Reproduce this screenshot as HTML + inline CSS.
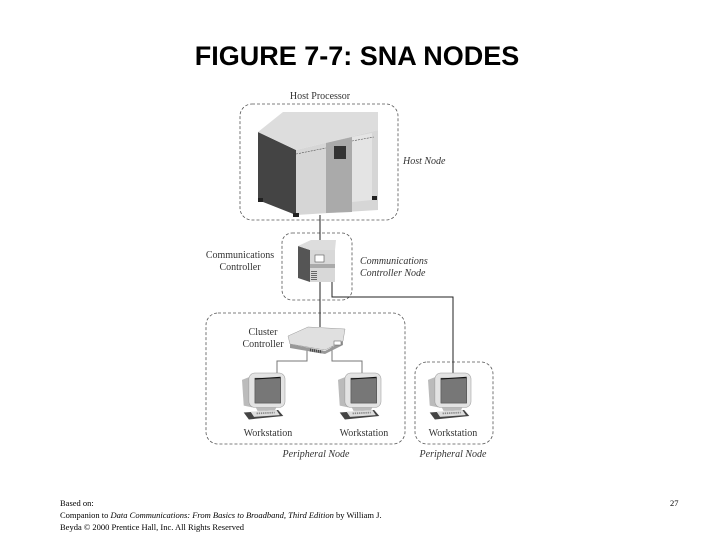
<!DOCTYPE html>
<html><head><meta charset="utf-8"><style>
html,body{margin:0;padding:0;background:#fff}
svg{display:block}
.s{font-family:"Liberation Serif",serif;font-size:10px;fill:#333}
.i{font-style:italic}
</style></head><body>
<svg width="720" height="540" viewBox="0 0 720 540" xmlns="http://www.w3.org/2000/svg">
<defs>
<g id="ws">
 <path d="M0,8 L10,4 L12,40 L2,38 Z" fill="#bbb"/>
 <rect x="8" y="0" width="42" height="40" rx="7" fill="#e3e3e3" stroke="#999" stroke-width="0.6"/>
 <rect x="15" y="6" width="30" height="29" fill="#777" stroke="#444" stroke-width="0.6"/>
 <line x1="15" y1="7" x2="45" y2="5" stroke="#111" stroke-width="1.2"/>
 <path d="M16,40 L40,40 L38,44 L18,44 Z" fill="#bbb"/>
 <path d="M2,46 L42,43 L48,50 L8,54 Z" fill="#444"/>
 <path d="M10,45 L40,43 L44,49 L14,51 Z" fill="#ddd"/>
 <line x1="17" y1="47" x2="38" y2="46" stroke="#888" stroke-width="2" stroke-dasharray="1.5,1"/>
</g>
</defs>
<text x="357" y="65" text-anchor="middle" font-family="Liberation Sans,Arial,sans-serif" font-weight="bold" font-size="27" fill="#000">FIGURE 7-7: SNA NODES</text>

<g fill="none" stroke="#555" stroke-width="0.8" stroke-dasharray="3,2">
 <rect x="240" y="104" width="158" height="116" rx="12"/>
 <rect x="282" y="233" width="70" height="67" rx="10"/>
 <rect x="206" y="313" width="199" height="131" rx="12"/>
 <rect x="415" y="362" width="78" height="82" rx="12"/>
</g>

<g stroke="#222" stroke-width="1" fill="none">
 <line x1="320" y1="215" x2="320" y2="242"/>
 <line x1="320" y1="282" x2="320" y2="327"/>
 <polyline points="332,282 332,297 453,297 453,375"/>
 <polyline points="307,350 307,361 277,361 277,374" stroke="#777"/>
 <polyline points="332,345 332,361 362,361 362,374" stroke="#777"/>
</g>

<path d="M258,132 L296,150 L296,215 L258,200 Z" fill="#444"/>
<path d="M258,132 L283,112 L378,112 L378,130 L296,150 Z" fill="#ddd"/>
<path d="M296,150 L378,130 L378,210 L296,215 Z" fill="#d6d6d6"/>
<path d="M326,143 L352,137 L352,212 L326,213 Z" fill="#aaa"/>
<path d="M352,137 L372,133 L372,200 L352,202 Z" fill="#e4e4e4"/>
<rect x="334" y="146" width="12" height="13" fill="#333"/>
<line x1="296" y1="154" x2="326" y2="148" stroke="#555" stroke-width="0.6" stroke-dasharray="2,1"/>
<line x1="352" y1="141" x2="374" y2="137" stroke="#555" stroke-width="0.6" stroke-dasharray="2,1"/>
<rect x="258" y="198" width="5" height="4" fill="#222"/>
<rect x="293" y="213" width="6" height="4" fill="#222"/>
<rect x="372" y="196" width="5" height="4" fill="#222"/>

<path d="M298,246 L310,250 L310,282 L298,278 Z" fill="#555"/>
<path d="M298,246 L311,240 L336,240 L335,250 L310,250 Z" fill="#ddd"/>
<rect x="310" y="250" width="25" height="32" fill="#d8d8d8"/>
<rect x="315" y="255" width="9" height="7" fill="#fff" stroke="#555" stroke-width="0.6"/>
<rect x="310" y="264" width="25" height="4" fill="#aaa"/>
<line x1="314" y1="271" x2="314" y2="281" stroke="#666" stroke-width="6" stroke-dasharray="1,1"/>

<path d="M288,336 L308,327 L345,329 L343,341 L325,350 L290,344 Z" fill="#e0e0e0" stroke="#999" stroke-width="0.5"/>
<path d="M290,344 L325,351 L343,341 L343,345 L325,354 L290,348 Z" fill="#999"/>
<line x1="310" y1="350" x2="322" y2="352" stroke="#444" stroke-width="3" stroke-dasharray="1,1"/>
<rect x="334" y="341" width="7" height="4" fill="#fff" stroke="#555" stroke-width="0.5"/>

<use href="#ws" transform="translate(242,373) scale(0.86)"/>
<use href="#ws" transform="translate(338,373) scale(0.86)"/>
<use href="#ws" transform="translate(428,373) scale(0.86)"/>

<text class="s" x="320" y="99" text-anchor="middle">Host Processor</text>
<text class="s i" x="403" y="164">Host Node</text>
<text class="s" x="240" y="258" text-anchor="middle">Communications</text>
<text class="s" x="240" y="270" text-anchor="middle">Controller</text>
<text class="s i" x="360" y="264">Communications</text>
<text class="s i" x="360" y="276">Controller Node</text>
<text class="s" x="263" y="335" text-anchor="middle">Cluster</text>
<text class="s" x="263" y="347" text-anchor="middle">Controller</text>
<text class="s" x="268" y="436" text-anchor="middle">Workstation</text>
<text class="s" x="364" y="436" text-anchor="middle">Workstation</text>
<text class="s" x="453" y="436" text-anchor="middle">Workstation</text>
<text class="s i" x="316" y="457" text-anchor="middle">Peripheral Node</text>
<text class="s i" x="453" y="457" text-anchor="middle">Peripheral Node</text>

<g font-family="Liberation Serif,serif" font-size="8.5" fill="#000">
<text x="60" y="506">Based on:</text>
<text x="60" y="518">Companion to <tspan font-style="italic">Data Communications:  From Basics to Broadband, Third Edition</tspan> by William J.</text>
<text x="60" y="530">Beyda © 2000 Prentice Hall, Inc.  All Rights Reserved</text>
<text x="670" y="506">27</text>
</g>
</svg>
</body></html>
